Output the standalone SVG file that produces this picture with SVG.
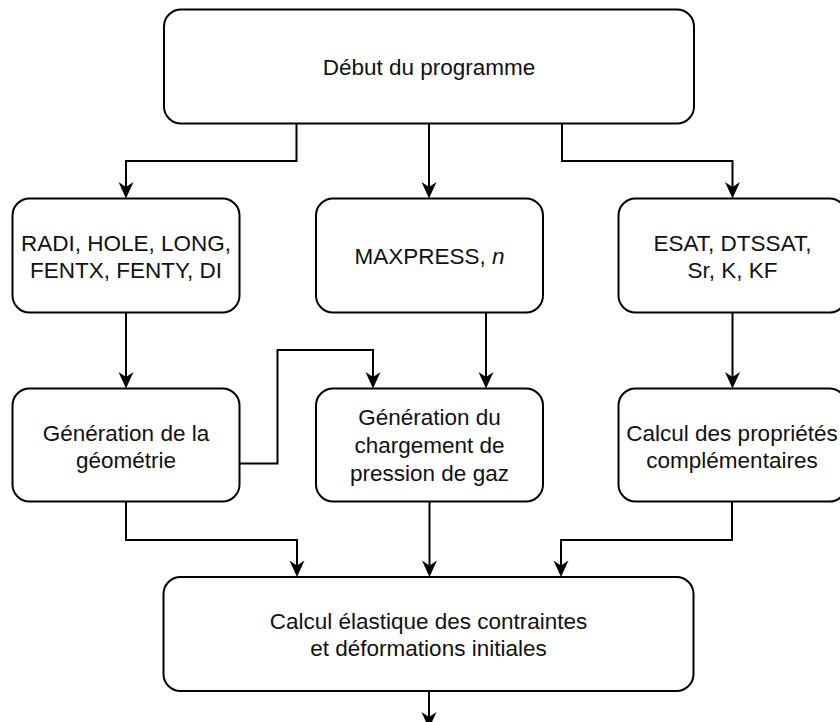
<svg xmlns="http://www.w3.org/2000/svg" width="840" height="722" viewBox="0 0 840 722">
<style>
.box{fill:#fff;stroke:#000;stroke-width:2}
.lbl{font-family:"Liberation Sans",Arial,Helvetica,sans-serif;font-size:22.5px;fill:#111;text-anchor:middle}
.con{fill:none;stroke:#000;stroke-width:2;marker-end:url(#arr)}
.plain{fill:none;stroke:#000;stroke-width:2}
</style>
<defs>
<marker id="arr" markerUnits="userSpaceOnUse" markerWidth="20" markerHeight="18" viewBox="0 0 20 18" refX="6" refY="9" orient="auto">
<path d="M1,1.5 L17.5,9 L1,16.5 L6,9 Z" fill="#000"/>
</marker>
</defs>
<rect width="840" height="722" fill="#fff"/>
<g id="connectors">
<path class="con" d="M296.5,123.5 V161 H126 V187"/>
<path class="con" d="M429,123.5 V187"/>
<path class="con" d="M562,123.5 V161 H732.5 V187"/>
<path class="con" d="M126,312.5 V377"/>
<path class="con" d="M486,312.5 V377"/>
<path class="con" d="M732.5,312.5 V377"/>
<path class="con" d="M239.5,463.5 H277.5 V350 H373 V377"/>
<path class="con" d="M126,501.5 V540 H297 V565.5"/>
<path class="con" d="M429.5,501.5 V565.5"/>
<path class="con" d="M732,501.5 V540 H561 V565.5"/>
<path class="con" d="M429,691 V717"/>
</g>
<g id="n-debut">
<rect class="box" x="164" y="9.5" width="530" height="114" rx="17"/>
<text class="lbl" x="429" y="74.5">Début du programme</text>
</g>
<g id="n-geom-params">
<rect class="box" x="12.5" y="198.5" width="227" height="114" rx="17"/>
<text class="lbl" x="126" y="251">RADI, HOLE, LONG,</text>
<text class="lbl" x="126" y="278.3">FENTX, FENTY, DI</text>
</g>
<g id="n-press-params">
<rect class="box" x="316" y="198.5" width="227" height="114" rx="17"/>
<text class="lbl" x="429.5" y="263.5">MAXPRESS, <tspan font-style="italic">n</tspan></text>
</g>
<g id="n-mat-params">
<rect class="box" x="618.5" y="198.5" width="228" height="114" rx="17"/>
<text class="lbl" x="732.5" y="251">ESAT, DTSSAT,</text>
<text class="lbl" x="732.5" y="278.3">Sr, K, KF</text>
</g>
<g id="n-geom">
<rect class="box" x="12.5" y="388.5" width="227" height="113" rx="17"/>
<text class="lbl" x="126" y="440.5">Génération de la</text>
<text class="lbl" x="126" y="468">géométrie</text>
</g>
<g id="n-press">
<rect class="box" x="316" y="388.5" width="227" height="113" rx="17"/>
<text class="lbl" x="429.5" y="425">Génération du</text>
<text class="lbl" x="429.5" y="453">chargement de</text>
<text class="lbl" x="429.5" y="481">pression de gaz</text>
</g>
<g id="n-props">
<rect class="box" x="618.5" y="388.5" width="228" height="113" rx="17"/>
<text class="lbl" x="732" y="440.5">Calcul des propriétés</text>
<text class="lbl" x="732" y="468">complémentaires</text>
</g>
<g id="n-elastic">
<rect class="box" x="163.5" y="577" width="530" height="114" rx="17"/>
<text class="lbl" x="428.5" y="628.5">Calcul élastique des contraintes</text>
<text class="lbl" x="428.5" y="656">et déformations initiales</text>
</g>
</svg>
